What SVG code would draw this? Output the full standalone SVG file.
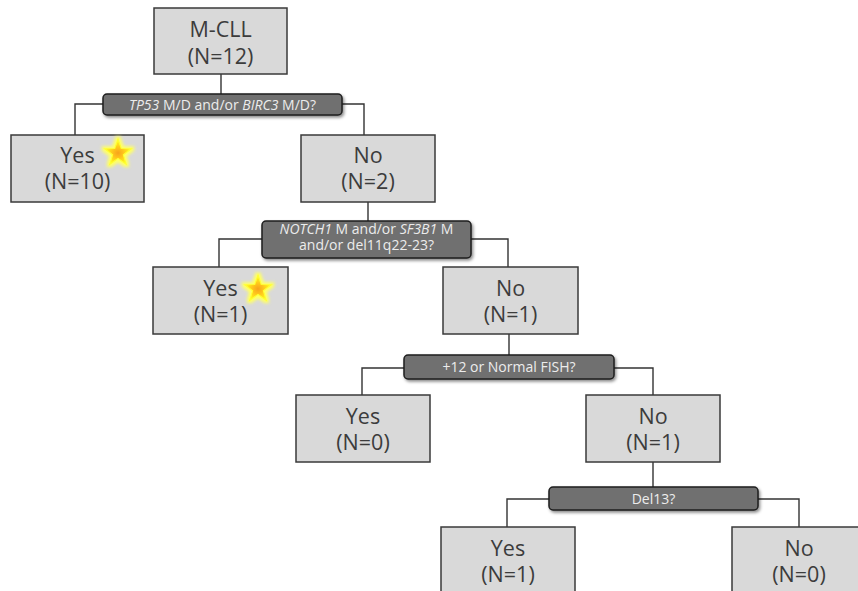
<svg xmlns="http://www.w3.org/2000/svg" width="858" height="591" viewBox="0 0 858 591">
<defs>
<style>
.box{fill:#d9d9d9;stroke:#3a3a3a;stroke-width:1.5}
.bar{fill:#6f6f6f;stroke:#1e1e1e;stroke-width:1.5;filter:url(#sh)}
.bt{font-family:"Open Sans","Liberation Sans",sans-serif;font-size:21.5px;fill:#3c3c3c;text-anchor:middle}
.qt{font-family:"Open Sans","Liberation Sans",sans-serif;font-size:14px;fill:#ececec;text-anchor:middle}
.it{font-style:italic}
.cn{fill:none;stroke:#333;stroke-width:1.4}
</style>
<filter id="sh" x="-10%" y="-40%" width="120%" height="200%">
<feDropShadow dx="1.5" dy="2" stdDeviation="1.5" flood-color="#000" flood-opacity="0.45"/>
</filter>
<radialGradient id="sg" cx="0.5" cy="0.55" r="0.5">
<stop offset="0" stop-color="#f7a21a"/>
<stop offset="0.45" stop-color="#ffc81a"/>
<stop offset="1" stop-color="#ffff20"/>
</radialGradient>
<filter id="glow" x="-50%" y="-50%" width="200%" height="200%">
<feGaussianBlur in="SourceAlpha" stdDeviation="2"/>
<feFlood flood-color="#ffff66"/>
<feComposite operator="in" in2="SourceAlpha"/>
<feMorphology operator="dilate" radius="1.5"/>
<feGaussianBlur stdDeviation="1.8" result="g"/>
<feMerge><feMergeNode in="g"/><feMergeNode in="SourceGraphic"/></feMerge>
</filter>
<polygon id="star" points="0,-14 3.3,-4.5 13.3,-4.3 5.4,1.7 8.2,11.3 0,5.6 -8.2,11.3 -5.4,1.7 -13.3,-4.3 -3.3,-4.5" fill="url(#sg)" stroke="#ffff30" stroke-width="1.2" filter="url(#glow)"/>
</defs>
<rect width="858" height="591" fill="#fff"/>
<g id="connectors">
<path class="cn" d="M221,74V94"/>
<path class="cn" d="M103,104H75V135"/>
<path class="cn" d="M342,104H364V135"/>
<path class="cn" d="M368,202V221"/>
<path class="cn" d="M262,239H219V267"/>
<path class="cn" d="M471,239H508V267"/>
<path class="cn" d="M509,334V355"/>
<path class="cn" d="M404,368H362V395"/>
<path class="cn" d="M614,368H653V395"/>
<path class="cn" d="M653,462V487"/>
<path class="cn" d="M549,499H507V527"/>
<path class="cn" d="M758,499H799V527"/>
</g>
<g id="root">
<rect class="box" x="154" y="8" width="133" height="66"/>
<text class="bt" x="220.5" y="37">M-CLL</text>
<text class="bt" x="220.5" y="64">(N=12)</text>
</g>
<g id="q1">
<rect class="bar" x="103" y="94" width="239" height="21" rx="4"/>
<text class="qt" x="222.5" y="109.5"><tspan class="it">TP53</tspan> M/D and/or <tspan class="it">BIRC3</tspan> M/D?</text>
</g>
<g id="yes1">
<rect class="box" x="11" y="135" width="133" height="67"/>
<text class="bt" x="77.5" y="163">Yes</text>
<text class="bt" x="77.5" y="189">(N=10)</text>
<use href="#star" x="118" y="153"/>
</g>
<g id="no1">
<rect class="box" x="301" y="135" width="134" height="67"/>
<text class="bt" x="368" y="163">No</text>
<text class="bt" x="368" y="189">(N=2)</text>
</g>
<g id="q2">
<rect class="bar" x="262" y="221" width="209" height="37" rx="4"/>
<text class="qt" x="366.5" y="234">
<tspan class="it">NOTCH1</tspan> M and/or <tspan class="it">SF3B1</tspan> M</text>
<text class="qt" x="366.5" y="250">and/or del11q22-23?</text>
</g>
<g id="yes2">
<rect class="box" x="153" y="267" width="135" height="67"/>
<text class="bt" x="220.5" y="296">Yes</text>
<text class="bt" x="220.5" y="322">(N=1)</text>
<use href="#star" x="258" y="289"/>
</g>
<g id="no2">
<rect class="box" x="443" y="267" width="135" height="67"/>
<text class="bt" x="510.5" y="296">No</text>
<text class="bt" x="510.5" y="322">(N=1)</text>
</g>
<g id="q3">
<rect class="bar" x="404" y="355" width="210" height="24" rx="4"/>
<text class="qt" x="509" y="372">+12 or Normal FISH?</text>
</g>
<g id="yes3">
<rect class="box" x="296" y="395" width="134" height="67"/>
<text class="bt" x="363" y="424">Yes</text>
<text class="bt" x="363" y="450">(N=0)</text>
</g>
<g id="no3">
<rect class="box" x="586" y="395" width="134" height="67"/>
<text class="bt" x="653" y="424">No</text>
<text class="bt" x="653" y="450">(N=1)</text>
</g>
<g id="q4">
<rect class="bar" x="549" y="487" width="209" height="23" rx="4"/>
<text class="qt" x="653.5" y="503.5">Del13?</text>
</g>
<g id="yes4">
<rect class="box" x="441" y="527" width="134" height="70"/>
<text class="bt" x="508" y="556">Yes</text>
<text class="bt" x="508" y="582">(N=1)</text>
</g>
<g id="no4">
<rect class="box" x="732" y="527" width="134" height="70"/>
<text class="bt" x="799" y="556">No</text>
<text class="bt" x="799" y="582">(N=0)</text>
</g>
</svg>
